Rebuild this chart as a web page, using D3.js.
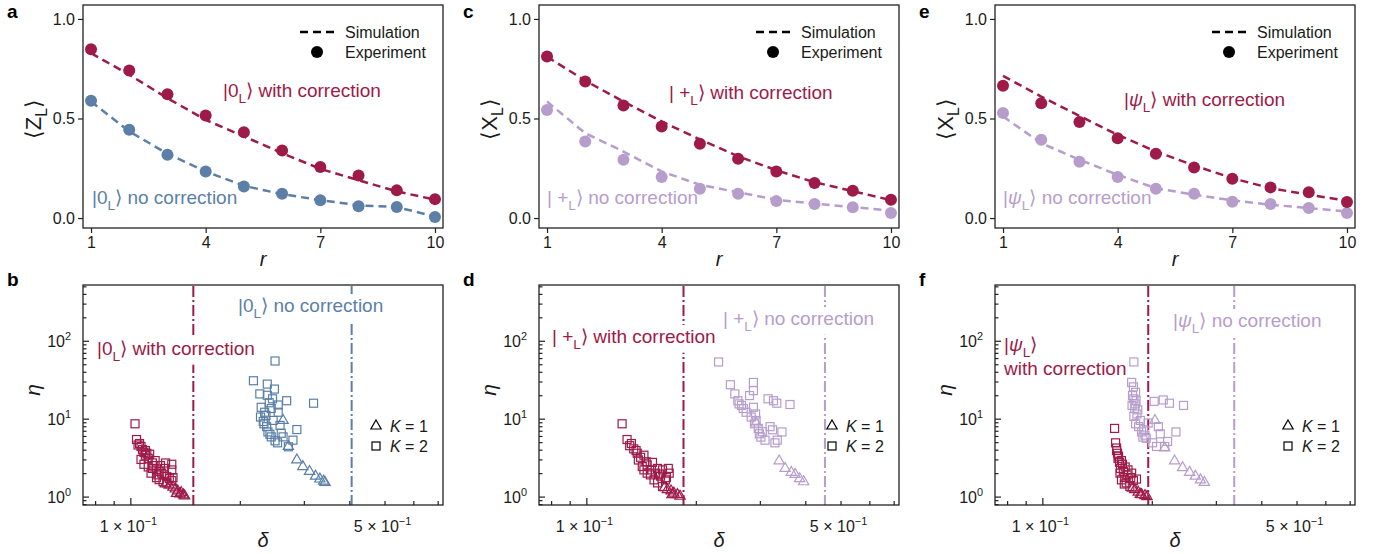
<!DOCTYPE html>
<html>
<head>
<meta charset="utf-8">
<script src="https://cdn.jsdelivr.net/npm/d3@7"></script>
<style>
  body { margin: 0; background: #fff; }
  svg { font-family: "Liberation Sans", Arial, sans-serif; }
</style>
</head>
<body>
<svg id="fig" width="1386" height="554"></svg>
<script>
const rounds = [1, 2, 3, 4, 5, 6, 7, 8, 9, 10];

// a: <Z_L>
const aWithExp = [0.848, 0.741, 0.622, 0.515, 0.431, 0.339, 0.256, 0.214, 0.139, 0.095];
const aWithSim = [0.828, 0.72, 0.602, 0.493, 0.41, 0.326, 0.247, 0.19, 0.134, 0.092];
const aNoExp = [0.589, 0.443, 0.318, 0.234, 0.159, 0.122, 0.089, 0.059, 0.055, 0.005];
const aNoSim = [0.585, 0.435, 0.323, 0.234, 0.162, 0.12, 0.09, 0.064, 0.055, 0.008];
// c: <X_L> for |+L>
const cWithExp = [0.811, 0.686, 0.565, 0.46, 0.373, 0.298, 0.234, 0.176, 0.137, 0.092];
const cWithSim = [0.81, 0.69, 0.585, 0.485, 0.395, 0.31, 0.24, 0.18, 0.135, 0.09];
const cNoExp = [0.543, 0.385, 0.293, 0.206, 0.147, 0.122, 0.085, 0.07, 0.054, 0.025];
const cNoSim = [0.585, 0.426, 0.334, 0.234, 0.167, 0.129, 0.092, 0.072, 0.055, 0.037];
// e: <X_L> for |psi_L>
const eWithExp = [0.664, 0.577, 0.482, 0.401, 0.323, 0.254, 0.197, 0.154, 0.129, 0.08];
const eWithSim = [0.714, 0.61, 0.513, 0.418, 0.334, 0.264, 0.2, 0.15, 0.117, 0.087];
const eNoExp = [0.527, 0.393, 0.283, 0.206, 0.147, 0.122, 0.082, 0.07, 0.05, 0.025];
const eNoSim = [0.51, 0.376, 0.293, 0.217, 0.15, 0.117, 0.089, 0.067, 0.05, 0.033];

// b, d, f: [delta, eta]
const bWithSq = [[0.103,8.6],[0.104,5.4],[0.106,4.8],[0.107,4.4],[0.108,4.0],[0.109,3.7],[0.110,3.4],[0.112,3.1],[0.110,3.9],[0.113,3.5],[0.115,2.7],[0.109,2.6],[0.112,2.4],[0.115,2.3],[0.118,2.2],[0.119,1.9],[0.122,2.0],[0.124,2.3],[0.125,2.7],[0.130,2.2],[0.130,2.6],[0.126,1.8],[0.128,1.7],[0.130,1.6],[0.120,1.65],[0.123,1.55],[0.126,1.5],[0.131,1.75],[0.107,3.0],[0.117,2.9],[0.121,2.5],[0.114,2.0],[0.118,1.75],[0.105,4.6],[0.111,3.6],[0.116,2.5],[0.120,2.1],[0.124,1.9]];
const bWithTri = [[0.128,1.4],[0.131,1.32],[0.133,1.25],[0.135,1.18],[0.138,1.12],[0.140,1.05],[0.141,1.02],[0.134,1.1],[0.137,1.08],[0.125,1.45]];
const bNoSq = [[0.250,55],[0.218,30.7],[0.238,27.8],[0.249,24],[0.227,20.8],[0.238,20],[0.269,17],[0.319,15.8],[0.229,14],[0.244,13.5],[0.255,12.1],[0.228,10.5],[0.233,8.6],[0.258,8.2],[0.287,7.25],[0.239,6.76],[0.263,5.84],[0.280,5.3],[0.254,4.9],[0.272,4.36],[0.244,5.84],[0.237,7.9],[0.247,9.5],[0.234,12.1],[0.241,16],[0.246,18],[0.232,9.2],[0.242,6.3],[0.250,5.2],[0.260,6.5],[0.236,11],[0.255,15]];
const bNoTri = [[0.263,9.5],[0.272,4.4],[0.287,2.95],[0.298,2.43],[0.311,2.1],[0.323,1.83],[0.332,1.68],[0.340,1.58],[0.343,1.52]];
const bThresholds = [0.149, 0.406];

const dWithSq = [[0.1254,8.6],[0.1294,5.4],[0.1316,4.5],[0.135,4.1],[0.138,3.6],[0.139,2.95],[0.144,3.4],[0.1425,2.43],[0.147,2.55],[0.152,2.75],[0.157,2.3],[0.162,2.2],[0.169,2.0],[0.160,1.83],[0.165,1.64],[0.1535,1.64],[0.150,1.9],[0.157,1.5],[0.162,1.35],[0.147,2.0],[0.144,2.2],[0.155,2.0],[0.133,4.8],[0.137,3.9],[0.141,3.2],[0.146,2.8],[0.151,2.2],[0.159,1.95],[0.166,1.75],[0.168,2.3]];
const dWithTri = [[0.167,1.23],[0.171,1.18],[0.174,1.11],[0.178,1.06],[0.181,1.01],[0.172,1.06],[0.164,1.3]];
const dNoSq = [[0.231,53.5],[0.249,27.3],[0.288,29.2],[0.288,22.9],[0.256,20.8],[0.281,19.8],[0.261,17],[0.267,14.8],[0.288,14],[0.316,18],[0.327,17],[0.334,15.8],[0.363,15.2],[0.284,10.5],[0.290,8.6],[0.297,7.5],[0.320,7.9],[0.345,6.76],[0.299,6.4],[0.310,5.3],[0.330,4.9],[0.335,5.3],[0.302,5.8],[0.293,9.5],[0.275,12.1],[0.263,15.5],[0.270,13.5],[0.292,11.5],[0.305,6.8],[0.325,7.2]];
const dNoTri = [[0.339,2.87],[0.352,2.3],[0.366,2.05],[0.375,1.93],[0.386,1.7],[0.396,1.55],[0.293,8.8]];
const dThresholds = [0.185, 0.453];

const fWithSq = [[0.158,7.5],[0.159,4.9],[0.160,4.2],[0.161,3.6],[0.1615,3.1],[0.163,2.75],[0.164,2.3],[0.167,2.1],[0.172,2.2],[0.176,2.0],[0.1815,1.68],[0.1685,1.76],[0.165,1.64],[0.170,1.5],[0.174,1.35],[0.1635,2.0],[0.166,2.6],[0.178,1.6],[0.160,3.9],[0.162,3.3],[0.165,2.9],[0.169,2.4],[0.171,1.9],[0.175,1.75],[0.168,1.45]];
const fWithTri = [[0.1795,1.23],[0.1835,1.14],[0.1875,1.06],[0.1915,1.03],[0.194,1.0],[0.186,1.07],[0.177,1.28]];
const fNoSq = [[0.1785,53.5],[0.176,29.2],[0.178,25.6],[0.1805,21.8],[0.177,19.8],[0.1785,18],[0.181,17],[0.1765,14.8],[0.1795,13.5],[0.183,13],[0.1785,10.7],[0.1805,8.6],[0.184,7.9],[0.1875,6.76],[0.1915,6.15],[0.1955,8.8],[0.193,5.6],[0.203,16.7],[0.215,17.4],[0.2236,15.8],[0.2445,14.8],[0.2085,7.9],[0.211,6.4],[0.201,4.9],[0.206,4.4],[0.221,5.1],[0.233,6.76],[0.217,4.4],[0.189,5.8],[0.180,15.5],[0.182,11.5],[0.186,9.5],[0.19,7.2]];
const fNoTri = [[0.204,9.5],[0.217,4.2],[0.231,2.87],[0.243,2.35],[0.254,2.05],[0.2635,1.83],[0.272,1.64],[0.279,1.52]];
const fThresholds = [0.1955, 0.337];

// tick values
const rTicks = [1, 4, 7, 10];
const valueTicks = [0, 0.5, 1.0];
const deltaMajor = [0.1];
const deltaMinor = [0.08, 0.09, 0.2, 0.3, 0.4, 0.5, 0.6, 0.7];
const deltaLabelVals = [0.1, 0.5];
const deltaLabelMant = ['1', '5'];
const etaMajor = [1, 10, 100];
const etaMinor = [0.8, 0.9, 2, 3, 4, 5, 6, 7, 8, 9, 20, 30, 40, 50, 60, 70, 80, 90, 200, 300, 400, 500];
const etaExps = ['0', '1', '2'];

const red = '#9e1a47', blue = '#5b7fa7', lilac = '#b69dcc', ink = '#1a1a1a';
const annSize = 19, tickSize = 16;

const ketZero = [['|0', ''], ['L', 'sub'], ['\u27E9', '']];
const ketPlus = [['| +', ''], ['L', 'sub'], ['\u27E9', '']];
const ketPsi = [['|', ''], ['\u03C8', 'it'], ['L', 'sub'], ['\u27E9', '']];

const svg = d3.select('#fig');
const lefts = [83, 539, 995];
const W = 360, topH = 223, botH = 220;

const xR = d3.scaleLinear().domain([0.79, 10.21]).range([0, W]);
const yV = d3.scaleLinear().domain([-0.05, 1.07]).range([topH, 0]);
const xD = d3.scaleLog().domain([0.0741, 0.724]).range([0, W]);
const yE = d3.scaleLog().domain([0.78, 520]).range([botH, 0]);

// text with sub/superscripts and italics
function rich(t, parts, size) {
  let shift = 0;
  parts.forEach(([s, k]) => {
    const ts = t.append('tspan').text(s);
    let target = 0;
    if (k === 'sub') { target = 0.3 * size; ts.attr('font-size', size * 0.72); }
    if (k === 'sup') { target = -0.42 * size; ts.attr('font-size', size * 0.68); }
    if (k === 'it') ts.attr('font-style', 'italic');
    if (target !== shift) { ts.attr('dy', target - shift); shift = target; }
  });
  return t;
}

function styleAxis(s) {
  s.attr('font-size', tickSize).attr('font-family', '"Liberation Sans", Arial, sans-serif');
  s.select('.domain').remove();
  s.selectAll('line').attr('stroke', '#222').attr('stroke-width', 1.2);
  s.selectAll('text').attr('fill', ink);
}

function topPanel(i, p) {
  const g = svg.append('g').attr('transform', `translate(${lefts[i]},5)`);

  [[p.noExp, p.noSim, p.noColor], [p.withExp, p.withSim, red]].forEach(([exp, sim, col]) => {
    g.append('g').selectAll('circle').data(rounds).join('circle')
      .attr('cx', d => xR(d)).attr('cy', (d, k) => yV(exp[k]))
      .attr('r', 6).attr('fill', col);
    g.append('path').datum(rounds)
      .attr('d', d3.line().x(d => xR(d)).y((d, k) => yV(sim[k])))
      .attr('fill', 'none').attr('stroke', col)
      .attr('stroke-width', 2.5).attr('stroke-dasharray', '8,5');
  });

  p.labels.forEach(l => {
    rich(g.append('text').attr('x', l.x).attr('y', l.y).attr('fill', l.color).attr('font-size', annSize), l.parts, annSize);
  });

  g.append('g').attr('transform', `translate(0,${topH})`)
    .call(d3.axisBottom(xR).tickValues(rTicks).tickSize(5).tickPadding(4)).call(styleAxis);
  g.append('g')
    .call(d3.axisLeft(yV).tickValues(valueTicks).tickFormat(d3.format('.1f')).tickSize(5).tickPadding(3)).call(styleAxis);

  g.append('rect').attr('width', W).attr('height', topH)
    .attr('fill', 'none').attr('stroke', '#222').attr('stroke-width', 1.3);

  // legend
  g.append('line').attr('x1', 217).attr('x2', 251).attr('y1', 27).attr('y2', 27)
    .attr('stroke', '#000').attr('stroke-width', 2.5).attr('stroke-dasharray', '8,5');
  g.append('circle').attr('cx', 234).attr('cy', 47).attr('r', 6).attr('fill', '#000');
  g.append('text').attr('x', 262).attr('y', 27).attr('dy', '0.35em').attr('font-size', tickSize).attr('fill', ink).text('Simulation');
  g.append('text').attr('x', 262).attr('y', 47).attr('dy', '0.35em').attr('font-size', tickSize).attr('fill', ink).text('Experiment');

  rich(g.append('text').attr('x', 180).attr('y', 261).attr('text-anchor', 'middle').attr('font-size', 20).attr('fill', ink), [['r', 'it']], 20);
  rich(g.append('text').attr('transform', 'translate(-50,114) rotate(-90)').attr('text-anchor', 'middle')
    .attr('dy', '0.35em').attr('font-size', 22).attr('fill', ink), p.ylabel, 22);

  svg.append('text').attr('x', lefts[i] - 76).attr('y', 18).attr('font-size', 19)
    .attr('font-weight', 'bold').attr('fill', '#000').text(p.letter);
}

function botPanel(i, p) {
  const g = svg.append('g').attr('transform', `translate(${lefts[i]},285)`);

  p.thresholds.forEach((t, k) => {
    g.append('line').attr('x1', xD(t)).attr('x2', xD(t)).attr('y1', 1).attr('y2', botH)
      .attr('stroke', k ? p.noColor : red).attr('stroke-width', 2).attr('stroke-dasharray', '11,3,2,3');
  });

  p.labels.forEach(l => {
    const t = rich(g.append('text').attr('x', l.x).attr('y', l.y).attr('fill', l.color).attr('font-size', annSize), l.parts, annSize);
    if (l.bg === false) return;
    const b = t.node().getBBox();
    g.insert('rect', () => t.node())
      .attr('x', b.x - 2).attr('y', b.y - 1).attr('width', b.width + 4).attr('height', b.height + 2).attr('fill', '#fff');
  });

  const tri = d3.symbol(d3.symbolTriangle, 46);
  [[p.withSq, p.withTri, red], [p.noSq, p.noTri, p.noColor]].forEach(([sq, tr, col]) => {
    g.append('g').selectAll('rect').data(sq).join('rect')
      .attr('x', d => xD(d[0]) - 4).attr('y', d => yE(d[1]) - 4)
      .attr('width', 8).attr('height', 8)
      .attr('fill', 'none').attr('stroke', col).attr('stroke-width', 1.2);
    g.append('g').selectAll('path').data(tr).join('path')
      .attr('d', tri).attr('transform', d => `translate(${xD(d[0])},${yE(d[1])})`)
      .attr('fill', 'none').attr('stroke', col).attr('stroke-width', 1.2);
  });

  // axes: inward ticks
  const xa = g.append('g').attr('transform', `translate(0,${botH})`);
  xa.append('g').call(d3.axisBottom(xD).tickValues(deltaMinor).tickSize(-4).tickFormat('')).call(styleAxis);
  xa.append('g').call(d3.axisBottom(xD).tickValues(deltaMajor).tickSize(-7).tickFormat('')).call(styleAxis);
  const ya = g.append('g');
  ya.append('g').call(d3.axisLeft(yE).tickValues(etaMinor).tickSize(-3.5).tickFormat('')).call(styleAxis);
  ya.append('g').call(d3.axisLeft(yE).tickValues(etaMajor).tickSize(-6).tickFormat('')).call(styleAxis);

  deltaLabelVals.forEach((v, k) => {
    rich(g.append('text').attr('x', xD(v) - 2).attr('y', 247).attr('text-anchor', 'middle').attr('font-size', tickSize).attr('fill', ink),
      [[deltaLabelMant[k] + ' \u00D7 10', ''], ['\u22121', 'sup']], tickSize);
  });
  etaMajor.forEach((v, k) => {
    rich(g.append('text').attr('x', -12).attr('y', yE(v) + 6).attr('text-anchor', 'end').attr('font-size', tickSize).attr('fill', ink),
      [['10', ''], [etaExps[k], 'sup']], tickSize);
  });

  g.append('rect').attr('width', W).attr('height', botH)
    .attr('fill', 'none').attr('stroke', '#222').attr('stroke-width', 1.3);

  // legend
  g.append('path').attr('d', tri).attr('transform', 'translate(293,141)')
    .attr('fill', 'none').attr('stroke', '#000').attr('stroke-width', 1.2);
  g.append('rect').attr('x', 289).attr('y', 157).attr('width', 8).attr('height', 8)
    .attr('fill', 'none').attr('stroke', '#000').attr('stroke-width', 1.2);
  rich(g.append('text').attr('x', 307).attr('y', 141).attr('dy', '0.35em').attr('font-size', tickSize).attr('fill', ink), [['K', 'it'], [' = 1', '']], tickSize);
  rich(g.append('text').attr('x', 307).attr('y', 161).attr('dy', '0.35em').attr('font-size', tickSize).attr('fill', ink), [['K', 'it'], [' = 2', '']], tickSize);

  rich(g.append('text').attr('x', 180).attr('y', 262).attr('text-anchor', 'middle').attr('font-size', 20).attr('fill', ink), [['\u03B4', 'it']], 20);
  rich(g.append('text').attr('transform', 'translate(-50,105) rotate(-90)').attr('text-anchor', 'middle')
    .attr('dy', '0.35em').attr('font-size', 21).attr('fill', ink), [['\u03B7', 'it']], 21);

  svg.append('text').attr('x', lefts[i] - 76).attr('y', 286).attr('font-size', 19)
    .attr('font-weight', 'bold').attr('fill', '#000').text(p.letter);
}

const withTxt = [[' with correction', '']];
const noTxt = [[' no correction', '']];

topPanel(0, {
  letter: 'a', ylabel: [['\u27E8Z', ''], ['L', 'sub'], ['\u27E9', '']], noColor: blue,
  withExp: aWithExp, withSim: aWithSim, noExp: aNoExp, noSim: aNoSim,
  labels: [
    { x: 140, y: 92, color: red, parts: ketZero.concat(withTxt) },
    { x: 9, y: 199, color: blue, parts: ketZero.concat(noTxt) }
  ]
});
topPanel(1, {
  letter: 'c', ylabel: [['\u27E8X', ''], ['L', 'sub'], ['\u27E9', '']], noColor: lilac,
  withExp: cWithExp, withSim: cWithSim, noExp: cNoExp, noSim: cNoSim,
  labels: [
    { x: 130, y: 94, color: red, parts: ketPlus.concat(withTxt) },
    { x: 8, y: 199, color: lilac, parts: ketPlus.concat(noTxt) }
  ]
});
topPanel(2, {
  letter: 'e', ylabel: [['\u27E8X', ''], ['L', 'sub'], ['\u27E9', '']], noColor: lilac,
  withExp: eWithExp, withSim: eWithSim, noExp: eNoExp, noSim: eNoSim,
  labels: [
    { x: 129, y: 101, color: red, parts: ketPsi.concat(withTxt) },
    { x: 8, y: 199, color: lilac, parts: ketPsi.concat(noTxt) }
  ]
});

botPanel(0, {
  letter: 'b', noColor: blue, thresholds: bThresholds,
  withSq: bWithSq, withTri: bWithTri, noSq: bNoSq, noTri: bNoTri,
  labels: [
    { x: 14, y: 70, color: red, parts: ketZero.concat(withTxt) },
    { x: 155, y: 27, color: blue, parts: ketZero.concat(noTxt) }
  ]
});
botPanel(1, {
  letter: 'd', noColor: lilac, thresholds: dThresholds,
  withSq: dWithSq, withTri: dWithTri, noSq: dNoSq, noTri: dNoTri,
  labels: [
    { x: 13, y: 58, color: red, parts: ketPlus.concat(withTxt) },
    { x: 184, y: 40, color: lilac, parts: ketPlus.concat(noTxt) }
  ]
});
botPanel(2, {
  letter: 'f', noColor: lilac, thresholds: fThresholds,
  withSq: fWithSq, withTri: fWithTri, noSq: fNoSq, noTri: fNoTri,
  labels: [
    { x: 9, y: 66, color: red, parts: ketPsi, bg: false },
    { x: 9, y: 90, color: red, parts: [['with correction', '']], bg: false },
    { x: 178, y: 42, color: lilac, parts: ketPsi.concat(noTxt) }
  ]
});
</script>
</body>
</html>
